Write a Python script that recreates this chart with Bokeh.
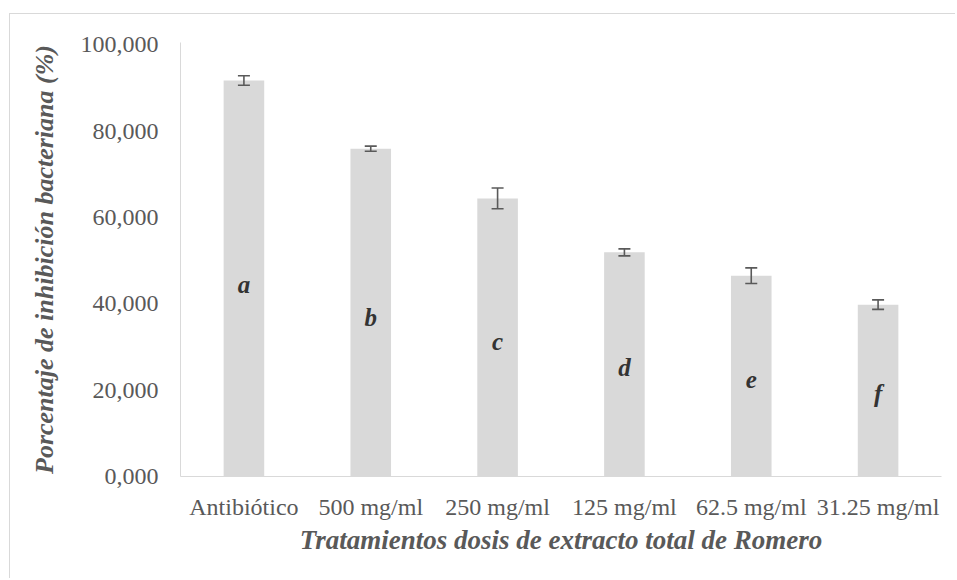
import numpy as np
from bokeh.plotting import figure
from bokeh.models import (ColumnDataSource, Whisker, TeeHead, FixedTicker,
                          CustomJSTickFormatter, FactorRange, Range1d)
from bokeh.core.properties import value
from bokeh.embed import file_html
from bokeh.resources import INLINE

# ---- data ----
categories = ["Antibiótico", "500 mg/ml", "250 mg/ml", "125 mg/ml", "62.5 mg/ml", "31.25 mg/ml"]
inhibition = [91.7, 75.9, 64.4, 51.9, 46.5, 39.8]
std_error = [1.1, 0.6, 2.4, 0.8, 1.8, 1.1]
group_letters = ["a", "b", "c", "d", "e", "f"]
y_ticks = [0, 20, 40, 60, 80, 100]

x_title = "Tratamientos dosis de extracto total de Romero"
y_title = "Porcentaje de inhibición bacteriana (%)"

vals = np.array(inhibition)
errs = np.array(std_error)
src = ColumnDataSource(dict(
    cat=categories,
    val=vals,
    upper=vals + errs,
    lower=vals - errs,
    letter=group_letters,
    letter_y=vals * 0.485,
))

FONT = "Liberation Serif"
GREY = "#595959"

p = figure(
    x_range=FactorRange(factors=categories, range_padding=0),
    y_range=Range1d(0, 100.5),
    width=946, height=565,
    min_border_left=170, min_border_right=15,
    min_border_top=28, min_border_bottom=103,
    output_backend="svg", toolbar_location=None,
    styles={"margin-left": "9px", "margin-top": "13px",
            "border-left": "1px solid #d9d9d9", "border-top": "1px solid #d9d9d9"},
)
p.outline_line_color = None
p.xgrid.grid_line_color = None
p.ygrid.grid_line_color = None
p.background_fill_color = "white"
p.border_fill_color = "white"

p.vbar(x="cat", top="val", width=0.32, source=src,
       fill_color="#d9d9d9", line_color=None)

w = Whisker(base="cat", upper="upper", lower="lower", source=src,
            line_color="#5a5a5a", line_width=1.6, level="overlay",
            upper_head=TeeHead(size=12, line_color="#5a5a5a", line_width=1.6),
            lower_head=TeeHead(size=12, line_color="#5a5a5a", line_width=1.6))
p.add_layout(w)

p.text(x="cat", y="letter_y", text="letter", source=src,
       text_font=value(FONT), text_font_style="bold italic",
       text_font_size="25px", text_color="#333333",
       text_align="center", text_baseline="middle")

# y axis
p.yaxis.ticker = FixedTicker(ticks=y_ticks)
p.yaxis.formatter = CustomJSTickFormatter(code="return tick.toFixed(3).replace('.', ',');")
p.yaxis.axis_line_color = "#d9d9d9"
p.yaxis.major_tick_line_color = None
p.yaxis.minor_tick_line_color = None
p.yaxis.major_label_standoff = 16
p.yaxis.major_label_text_font = FONT
p.yaxis.major_label_text_font_size = "24px"
p.yaxis.major_label_text_color = GREY
p.yaxis.axis_label = y_title
p.yaxis.axis_label_text_font = FONT
p.yaxis.axis_label_text_font_style = "bold italic"
p.yaxis.axis_label_text_font_size = "26px"
p.yaxis.axis_label_text_color = GREY
p.yaxis.axis_label_standoff = 19

# x axis
p.xaxis.axis_line_color = "#d9d9d9"
p.xaxis.major_tick_line_color = None
p.xaxis.minor_tick_line_color = None
p.xaxis.major_label_standoff = 11
p.xaxis.major_label_text_font = FONT
p.xaxis.major_label_text_font_size = "24px"
p.xaxis.major_label_text_color = GREY
p.xaxis.axis_label = x_title
p.xaxis.axis_label_text_font = FONT
p.xaxis.axis_label_text_font_style = "bold italic"
p.xaxis.axis_label_text_font_size = "27px"
p.xaxis.axis_label_text_color = GREY
p.xaxis.axis_label_standoff = 2

open("out.html", "w").write(file_html(p, INLINE))
